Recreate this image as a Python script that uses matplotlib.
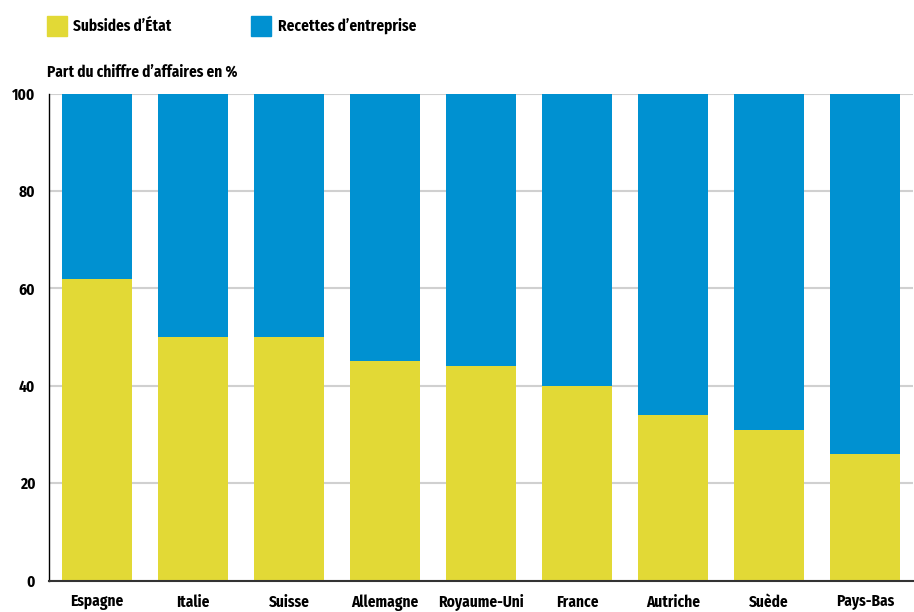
import matplotlib
matplotlib.use("Agg")
import matplotlib.pyplot as plt
from matplotlib.patches import Rectangle

countries = ["Espagne", "Italie", "Suisse", "Allemagne", "Royaume-Uni",
             "France", "Autriche", "Suède", "Pays-Bas"]
subsides = [62, 50, 50, 45, 44, 40, 34, 31, 26]
recettes = [100 - s for s in subsides]
yticks = [0, 20, 40, 60, 80, 100]

YELLOW = "#E2D936"
BLUE = "#0091D1"

plt.rcParams['font.family'] = ['Fira Sans Condensed', 'DejaVu Sans']
plt.rcParams['font.weight'] = 'bold'
FS = 11

fig = plt.figure(figsize=(9.14, 6.12), dpi=100)
ax = fig.add_axes([49/914, 1-580.5/612, 864/914, 487/612])

x = range(len(countries))
ax.bar(x, subsides, width=0.73, color=YELLOW, zorder=3)
ax.bar(x, recettes, bottom=subsides, width=0.73, color=BLUE, zorder=3)

ax.set_xlim(-0.5, 8.5)
ax.set_ylim(0, 100)
ax.set_yticks(yticks)
ax.set_yticklabels([str(t) for t in yticks], fontsize=FS, fontweight='bold')
ax.set_xticks(list(x))
ax.set_xticklabels(countries, fontsize=FS, fontweight='bold')
ax.tick_params(axis='both', length=0)
ax.tick_params(axis='y', pad=10)
ax.tick_params(axis='x', pad=10)
ax.grid(axis='y', color='#d0d0d0', linewidth=1.5, zorder=0)
for s in ['top', 'right']:
    ax.spines[s].set_visible(False)
ax.spines['left'].set_color('black')
ax.spines['left'].set_linewidth(1.0)
ax.spines['bottom'].set_color('#333333')
ax.spines['bottom'].set_linewidth(1.5)
ax.spines['bottom'].set_zorder(4)

# legend
fig.patches.append(Rectangle((47/914, 1-36/612), 20/914, 20/612,
                             transform=fig.transFigure, color=YELLOW))
fig.text(73/914, 1-26/612, "Subsides d’État", fontsize=FS, fontweight='bold',
         va='center', ha='left')
fig.patches.append(Rectangle((251/914, 1-36/612), 20/914, 20/612,
                             transform=fig.transFigure, color=BLUE))
fig.text(278/914, 1-26/612, "Recettes d’entreprise", fontsize=FS, fontweight='bold',
         va='center', ha='left')
fig.text(47/914, 1-72/612, "Part du chiffre d’affaires en %", fontsize=FS,
         fontweight='bold', va='center', ha='left')

fig.savefig("out.png", dpi=100)
